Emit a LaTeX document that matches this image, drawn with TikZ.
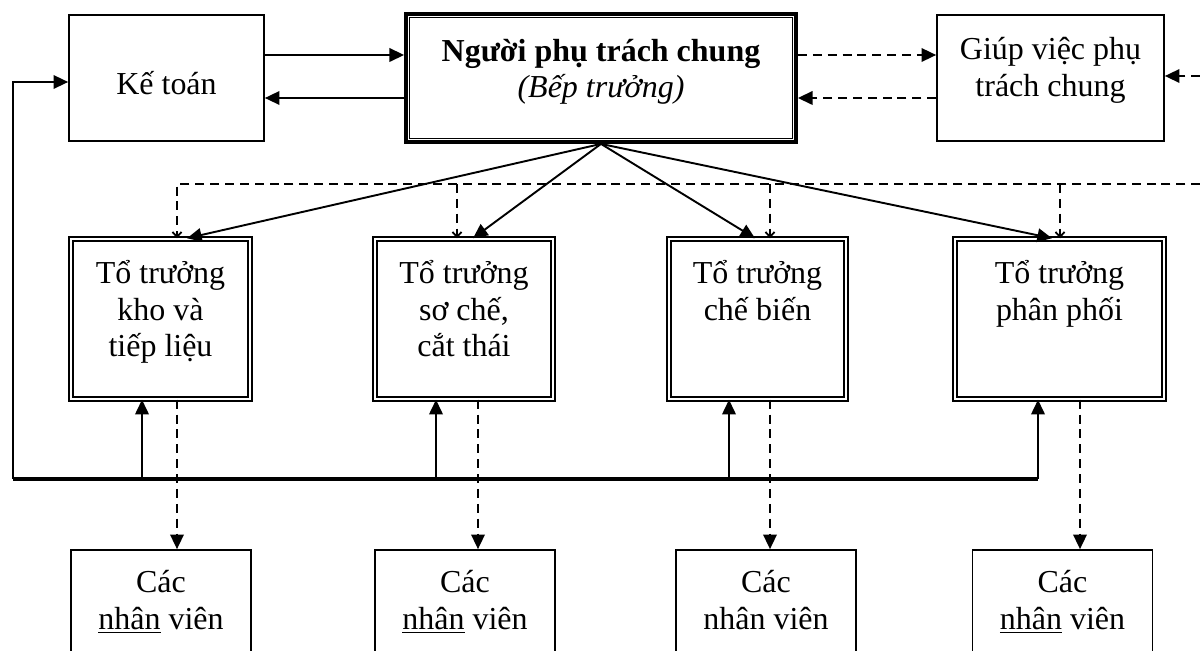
\documentclass[tikz,border=0pt]{standalone}
\usepackage{fontspec}
\setmainfont{Liberation Serif}
\usetikzlibrary{arrows.meta}
\tikzset{
  box/.style={draw,line width=0.75pt,inner sep=0pt},
  dbox/.style={draw,double,double distance=1.3pt,line width=0.65pt,inner sep=0pt},
  txt/.style={align=center,inner sep=0pt,anchor=north,font=\fontsize{14.2}{16.2}\selectfont},
  arr/.style={line width=0.85pt,-{Triangle[length=6.5pt,width=6pt]}},
  dsh/.style={line width=0.8pt,dash pattern=on 4pt off 2.6pt},
  barb/.style={-{Straight Barb[length=2.2pt,width=4pt]}}
}
\newcommand\tstrut{\rule{0pt}{14pt}}
\begin{document}
\begin{tikzpicture}[x=0.444pt,y=-0.444pt]
	\def\ux{0.444pt}
	\useasboundingbox (0,0) rectangle (1200,651);
	\clip (0,0) rectangle (1200,651);
	\node[box,minimum width=195*\ux,minimum height=126*\ux] (kt) at (166.5,78) {};
	\node[box,line width=1.7pt,minimum width=390*\ux,minimum height=128*\ux] (main) at (601,78) {};
	\draw[line width=0.55pt] ([shift={(2.5pt,2.5pt)}]main.south west) rectangle ([shift={(-2.5pt,-2.5pt)}]main.north east);
	\node[box,minimum width=227*\ux,minimum height=126*\ux] (giup) at (1050.5,78) {};
	\node[txt] (kt-t) at (166.5,62.5) {\tstrut Kế toán};
	\node[txt] (main-t) at (601,29.5) {\tstrut\textbf{Người phụ trách chung}\\\textit{(Bếp trưởng)}};
	\node[txt] (giup-t) at (1050.5,28) {\tstrut Giúp việc phụ\\trách chung};
	\foreach \n/\x/\w in {t1/160.5/179,t2/464/178,t3/757.5/177,t4/1059.5/209}
	\node[dbox,minimum width=\w*\ux,minimum height=160*\ux] (\n) at (\x,319) {};
	\node[txt] (t1-t) at (160.5,252) {\tstrut Tổ trưởng\\kho và\\tiếp liệu};
	\node[txt] (t2-t) at (464,252) {\tstrut Tổ trưởng\\sơ chế,\\cắt thái};
	\node[txt] (t3-t) at (757.5,252) {\tstrut Tổ trưởng\\chế biến};
	\node[txt] (t4-t) at (1059.5,252) {\tstrut Tổ trưởng\\phân phối};
	\foreach \n/\x/\s in {n1/161/{\underline{nhân}},n2/465/{\underline{nhân}},n3/766/{nhân},n4/1062.5/{\underline{nhân}}}{
		\node[box,minimum width=180*\ux,minimum height=160*\ux] (\n) at (\x,630) {};
		\node[txt] (\n-t) at (\x,561) {\tstrut Các\\\s{} viên};
	}
	\coordinate (ya) at (0,55);
	\coordinate (yb) at (0,98);
	\coordinate (rt) at (1215,76);
	\coordinate (dl) at (1215,184);
	\coordinate (bl) at (13,479);
	\coordinate (br) at (1038,479);
	\draw[arr] (kt.east |- ya) -- (main.west |- ya);
	\draw[arr] (main.west |- yb) -- (kt.east |- yb);
	\draw[dsh,arr] (main.east |- ya) -- (giup.west |- ya);
	\draw[dsh,arr] (giup.west |- yb) -- (main.east |- yb);
	\draw[dsh,arr] (rt) -- (giup.east |- rt);
	\draw[dsh,barb] (dl) -- (177,184) -- (t1.north -| 177,0);
	\foreach \b/\x in {t2/457,t3/770,t4/1060}
	\draw[dsh,barb] (\x,184) -- (\b.north -| \x,0);
	\foreach \b/\x in {t1/187,t2/473,t3/755,t4/1052}
	\draw[arr] (main.south) -- (\b.north -| \x,0);
	\draw[line width=1.5pt] (bl) -- (br);
	\draw[arr] (bl) -- (13,82) -- (kt.west |- 0,82);
	\foreach \b/\x in {t1/142,t2/436,t3/729,t4/1038}
	\draw[arr] (\x,479) -- (\b.south -| \x,0);
	\foreach \b/\n/\x in {t1/n1/177,t2/n2/478,t3/n3/770,t4/n4/1080}
	\draw[dsh,arr] (\b.south -| \x,0) -- (\n.north -| \x,0);
\end{tikzpicture}
\end{document}
